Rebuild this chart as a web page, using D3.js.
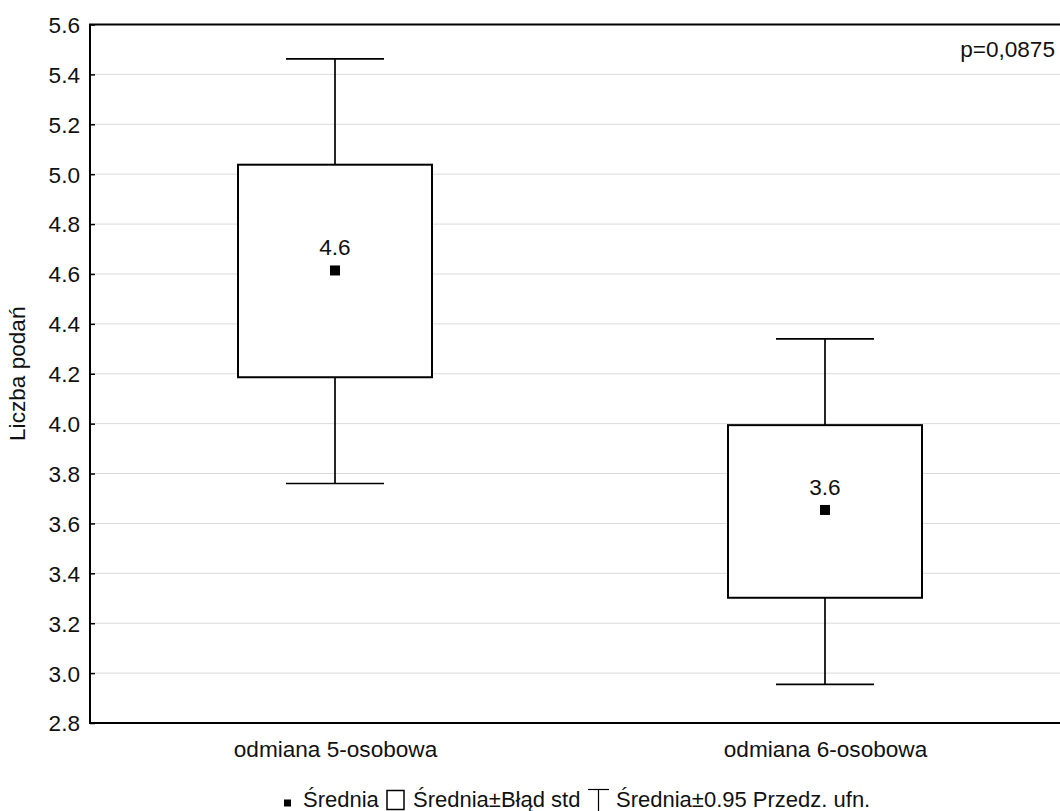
<!DOCTYPE html>
<html>
<head>
<meta charset="utf-8">
<script src="https://cdn.jsdelivr.net/npm/d3@7"></script>
<style>
  html, body { margin: 0; padding: 0; background: #fff; }
  svg { display: block; font-family: "Liberation Sans", Arial, sans-serif; }
</style>
</head>
<body>
<svg id="chart" width="1060" height="811"></svg>
<script>
const categories = ["odmiana 5-osobowa", "odmiana 6-osobowa"];
const means = [4.614, 3.654];
const meanLabels = ["4.6", "3.6"];
const seLow = [4.186, 3.302];
const seHigh = [5.038, 3.994];
const ciLow = [3.760, 2.955];
const ciHigh = [5.462, 4.340];
const yTicks = [2.8, 3.0, 3.2, 3.4, 3.6, 3.8, 4.0, 4.2, 4.4, 4.6, 4.8, 5.0, 5.2, 5.4, 5.6];
const yLabel = "Liczba podań";
const pText = "p=0,0875";
const legendLabels = ["Średnia", "Średnia±Błąd std", "Średnia±0.95 Przedz. ufn."];

(function () {
const svg = d3.select("#chart");
const pLeft = 90, pRight = 1070, pTop = 24.5, pBottom = 723;
const fs = 22.6;
const lfs = 22;
const txt = "#111";

const y = d3.scaleLinear().domain([2.8, 5.6]).range([pBottom, pTop]);
const x = d3.scalePoint().domain(categories).range([pLeft, pRight]).padding(0.5);

// grid
svg.append("g").selectAll("line").data(yTicks.slice(1, -1)).join("line")
  .attr("x1", pLeft).attr("x2", 1060)
  .attr("y1", d => y(d)).attr("y2", d => y(d))
  .attr("stroke", "#dadada").attr("stroke-width", 1);

// y axis
const yAxis = d3.axisLeft(y).tickValues(yTicks).tickFormat(d3.format(".1f")).tickSize(-5).tickPadding(10);
const ga = svg.append("g").attr("transform", `translate(${pLeft},0)`).call(yAxis);
ga.select(".domain").remove();
ga.selectAll(".tick line").attr("stroke", "#000").attr("stroke-width", 1.5);
ga.selectAll(".tick text").attr("font-size", fs).attr("fill", txt).attr("font-family", "Liberation Sans, Arial, sans-serif").attr("dy", "0.35em");

// frame lines (left, top, bottom)
svg.append("line").attr("x1", pLeft).attr("x2", pLeft).attr("y1", pTop).attr("y2", pBottom).attr("stroke", "#000").attr("stroke-width", 2);
svg.append("line").attr("x1", pLeft - 1).attr("x2", 1060).attr("y1", pTop).attr("y2", pTop).attr("stroke", "#000").attr("stroke-width", 2);
svg.append("line").attr("x1", pLeft - 1).attr("x2", 1060).attr("y1", pBottom).attr("y2", pBottom).attr("stroke", "#000").attr("stroke-width", 2);

// x axis labels
const xAxis = d3.axisBottom(x).tickSize(0).tickPadding(0);
const gx = svg.append("g").attr("transform", `translate(0,${pBottom})`).call(xAxis);
gx.select(".domain").remove();
gx.selectAll(".tick text").attr("font-size", fs).attr("fill", txt).attr("font-family", "Liberation Sans, Arial, sans-serif").attr("y", 33.5).attr("dy", 0);

const boxW = 194, capW = 98, markS = 10;
const idx = d3.range(categories.length);
const g = svg.append("g");
// whiskers
g.selectAll(".wh").data(idx).join("line")
  .attr("x1", i => x(categories[i])).attr("x2", i => x(categories[i]))
  .attr("y1", i => y(ciHigh[i])).attr("y2", i => y(ciLow[i]))
  .attr("stroke", "#000").attr("stroke-width", 1.7);
g.selectAll(".capT").data(idx).join("line")
  .attr("x1", i => x(categories[i]) - capW / 2).attr("x2", i => x(categories[i]) + capW / 2)
  .attr("y1", i => y(ciHigh[i])).attr("y2", i => y(ciHigh[i]))
  .attr("stroke", "#000").attr("stroke-width", 1.7);
g.selectAll(".capB").data(idx).join("line")
  .attr("x1", i => x(categories[i]) - capW / 2).attr("x2", i => x(categories[i]) + capW / 2)
  .attr("y1", i => y(ciLow[i])).attr("y2", i => y(ciLow[i]))
  .attr("stroke", "#000").attr("stroke-width", 1.7);
// boxes
g.selectAll(".box").data(idx).join("rect")
  .attr("x", i => x(categories[i]) - boxW / 2).attr("width", boxW)
  .attr("y", i => y(seHigh[i])).attr("height", i => y(seLow[i]) - y(seHigh[i]))
  .attr("fill", "#fff").attr("stroke", "#000").attr("stroke-width", 2);
// means
g.selectAll(".mean").data(idx).join("rect")
  .attr("x", i => x(categories[i]) - markS / 2).attr("y", i => y(means[i]) - markS / 2)
  .attr("width", markS).attr("height", markS).attr("fill", "#000");
g.selectAll(".mlab").data(idx).join("text")
  .attr("x", i => x(categories[i])).attr("y", i => y(means[i]) - 15)
  .attr("text-anchor", "middle").attr("font-size", fs).attr("fill", txt)
  .text(i => meanLabels[i]);

// p value
svg.append("text").attr("x", 1055).attr("y", 57).attr("text-anchor", "end")
  .attr("font-size", fs).attr("fill", txt).text(pText);

// y label
svg.append("text").attr("transform", `translate(25,${(pTop + pBottom) / 2}) rotate(-90)`)
  .attr("text-anchor", "middle").attr("font-size", fs).attr("fill", txt).text(yLabel);

// legend
const ly = 806.5;
const lg = svg.append("g");
lg.append("rect").attr("x", 284).attr("y", ly - 7).attr("width", 7).attr("height", 7).attr("fill", "#000");
lg.append("text").attr("x", 303).attr("y", ly).attr("font-size", lfs).attr("fill", txt).text(legendLabels[0]);
lg.append("rect").attr("x", 387).attr("y", ly - 16).attr("width", 17).attr("height", 19).attr("fill", "#fff").attr("stroke", "#000").attr("stroke-width", 1.5);
lg.append("text").attr("x", 413).attr("y", ly).attr("font-size", lfs).attr("fill", txt).text(legendLabels[1]);
lg.append("line").attr("x1", 588).attr("x2", 609).attr("y1", ly - 17).attr("y2", ly - 17).attr("stroke", "#000").attr("stroke-width", 1.2);
lg.append("line").attr("x1", 598.5).attr("x2", 598.5).attr("y1", ly - 17).attr("y2", ly + 5).attr("stroke", "#000").attr("stroke-width", 1.2);
lg.append("text").attr("x", 616).attr("y", ly).attr("font-size", lfs).attr("fill", txt).text(legendLabels[2]);
})();
</script>
</body>
</html>
